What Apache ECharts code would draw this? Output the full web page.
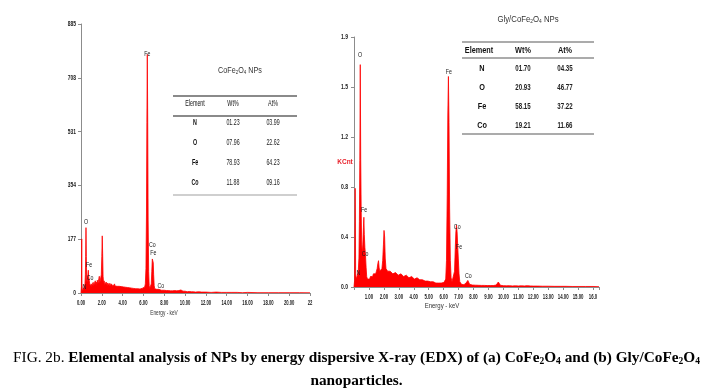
<!DOCTYPE html>
<html><head><meta charset="utf-8">
<script src="https://cdn.jsdelivr.net/npm/echarts@6/dist/echarts.min.js"></script>
<style>html,body{margin:0;padding:0;background:#fff}#c{width:713px;height:391px}</style>
</head><body><div id="c"></div>
<script>
// ---- (a) CoFe2O4 spectrum: [energy keV, counts]
const specA = [[0.00,0],[0.04,20],[0.07,178],[0.09,30],[0.13,8],[0.18,5],[0.24,10],[0.30,18],[0.34,24],[0.38,30],[0.42,60],[0.45,120],[0.48,215],[0.51,120],[0.54,50],[0.58,35],[0.62,45],[0.66,60],[0.70,75],[0.73,55],[0.77,45],[0.80,40],[0.84,30],[0.88,26],[0.93,22],[0.98,30],[1.03,20],[1.08,28],[1.12,22],[1.17,35],[1.22,24],[1.27,30],[1.32,26],[1.37,40],[1.42,28],[1.47,36],[1.52,25],[1.57,42],[1.62,30],[1.67,38],[1.72,48],[1.76,55],[1.80,32],[1.85,30],[1.90,36],[1.95,60],[2.00,120],[2.04,188],[2.08,130],[2.12,55],[2.17,32],[2.22,40],[2.27,28],[2.32,34],[2.37,26],[2.42,36],[2.47,30],[2.52,25],[2.57,33],[2.62,27],[2.67,30],[2.72,24],[2.77,32],[2.82,26],[2.87,23],[2.92,30],[2.97,24],[3.02,28],[3.07,22],[3.12,27],[3.17,21],[3.22,30],[3.27,23],[3.32,26],[3.37,20],[3.42,28],[3.47,22],[3.52,25],[3.57,19],[3.62,27],[3.67,22],[3.72,24],[3.77,18],[3.82,26],[3.87,21],[3.92,23],[3.97,18],[4.02,25],[4.07,20],[4.12,22],[4.17,17],[4.22,24],[4.27,19],[4.32,21],[4.37,16],[4.42,22],[4.47,18],[4.52,20],[4.57,15],[4.62,21],[4.67,17],[4.72,19],[4.77,15],[4.82,20],[4.87,16],[4.92,18],[4.97,14],[5.02,19],[5.07,15],[5.12,17],[5.17,13],[5.22,18],[5.27,14],[5.32,16],[5.37,13],[5.42,17],[5.47,14],[5.52,16],[5.57,12],[5.62,16],[5.67,13],[5.72,15],[5.77,12],[5.82,14],[5.87,13],[5.92,16],[5.97,14],[6.02,18],[6.07,15],[6.12,20],[6.18,30],[6.24,80],[6.29,260],[6.33,560],[6.37,785],[6.41,560],[6.45,240],[6.50,70],[6.55,25],[6.60,15],[6.65,14],[6.70,18],[6.75,30],[6.80,70],[6.85,112],[6.90,118],[6.94,100],[6.98,60],[7.03,25],[7.08,14],[7.13,12],[7.18,11],[7.23,10],[7.28,12],[7.33,9],[7.38,11],[7.43,10],[7.48,12],[7.53,14],[7.58,18],[7.62,16],[7.67,12],[7.72,9],[7.80,10],[7.90,8],[8.00,9],[8.10,7],[8.20,8],[8.30,6],[8.40,8],[8.50,6],[8.60,7],[8.70,5],[8.80,7],[8.90,6],[9.00,8],[9.10,5],[9.20,7],[9.30,6],[9.40,8],[9.50,6],[9.60,10],[9.70,8],[9.80,6],[9.90,5],[10.0,6],[10.2,4],[10.4,5],[10.6,4],[10.8,4],[11.0,3],[11.3,4],[11.6,3],[12.0,3],[12.5,2],[13.0,3],[13.5,2],[14.0,2],[14.5,2],[15.0,2],[15.5,1],[16.0,2],[17.0,1],[18.0,1],[19.0,1],[20.0,1],[21.0,1],[22.0,1]];

// ---- (b) Gly/CoFe2O4 spectrum: [energy keV, KCnt]
const specB = [[0.00,0],[0.04,0.05],[0.08,0.75],[0.11,0.1],[0.15,0.06],[0.20,0.08],[0.25,0.10],[0.29,0.13],[0.33,0.22],[0.36,0.5],[0.39,0.96],[0.42,1.69],[0.45,0.97],[0.48,0.6],[0.51,0.35],[0.55,0.25],[0.59,0.32],[0.63,0.45],[0.66,0.53],[0.69,0.40],[0.73,0.30],[0.77,0.24],[0.81,0.15],[0.85,0.08],[0.90,0.06],[0.95,0.05],[1.00,0.07],[1.05,0.06],[1.10,0.08],[1.15,0.07],[1.20,0.09],[1.25,0.08],[1.30,0.10],[1.35,0.09],[1.40,0.11],[1.45,0.10],[1.50,0.12],[1.55,0.14],[1.60,0.18],[1.64,0.20],[1.68,0.15],[1.72,0.12],[1.77,0.13],[1.82,0.12],[1.87,0.14],[1.92,0.20],[1.97,0.32],[2.01,0.43],[2.05,0.38],[2.09,0.22],[2.14,0.14],[2.19,0.13],[2.25,0.12],[2.30,0.13],[2.36,0.11],[2.42,0.12],[2.48,0.11],[2.54,0.12],[2.60,0.10],[2.66,0.11],[2.72,0.10],[2.78,0.11],[2.84,0.10],[2.90,0.10],[2.96,0.09],[3.02,0.10],[3.08,0.09],[3.14,0.10],[3.20,0.09],[3.26,0.09],[3.32,0.08],[3.38,0.09],[3.44,0.08],[3.50,0.09],[3.56,0.08],[3.62,0.08],[3.68,0.07],[3.74,0.08],[3.80,0.07],[3.86,0.08],[3.92,0.07],[3.98,0.07],[4.04,0.06],[4.10,0.07],[4.16,0.06],[4.22,0.07],[4.28,0.06],[4.34,0.06],[4.40,0.055],[4.46,0.06],[4.52,0.05],[4.58,0.055],[4.64,0.05],[4.70,0.05],[4.76,0.045],[4.82,0.05],[4.88,0.045],[4.94,0.045],[5.00,0.04],[5.06,0.045],[5.12,0.04],[5.18,0.04],[5.24,0.035],[5.30,0.04],[5.36,0.035],[5.42,0.035],[5.48,0.03],[5.54,0.035],[5.60,0.03],[5.66,0.03],[5.72,0.03],[5.78,0.028],[5.84,0.03],[5.90,0.03],[5.96,0.032],[6.02,0.035],[6.08,0.04],[6.14,0.06],[6.19,0.2],[6.24,0.7],[6.28,1.3],[6.32,1.60],[6.36,1.25],[6.40,0.6],[6.45,0.2],[6.50,0.07],[6.56,0.04],[6.62,0.035],[6.68,0.05],[6.73,0.12],[6.78,0.3],[6.82,0.42],[6.86,0.47],[6.90,0.42],[6.94,0.32],[6.98,0.22],[7.03,0.1],[7.08,0.04],[7.14,0.025],[7.20,0.02],[7.28,0.02],[7.36,0.018],[7.44,0.02],[7.50,0.03],[7.56,0.045],[7.62,0.05],[7.68,0.035],[7.74,0.02],[7.82,0.016],[7.92,0.015],[8.02,0.016],[8.12,0.014],[8.22,0.015],[8.32,0.013],[8.42,0.014],[8.52,0.012],[8.62,0.013],[8.72,0.012],[8.82,0.012],[8.92,0.011],[9.02,0.012],[9.12,0.011],[9.22,0.012],[9.32,0.011],[9.42,0.012],[9.52,0.015],[9.60,0.03],[9.66,0.038],[9.72,0.025],[9.80,0.013],[9.90,0.011],[10.0,0.01],[10.2,0.009],[10.4,0.01],[10.6,0.008],[10.8,0.009],[11.0,0.008],[11.2,0.009],[11.4,0.008],[11.6,0.01],[11.8,0.008],[12.0,0.007],[12.3,0.007],[12.6,0.006],[13.0,0.006],[13.4,0.005],[13.8,0.005],[14.2,0.005],[14.6,0.004],[15.0,0.004],[15.5,0.004],[16.0,0.004],[16.4,0.003]];

// ---- peak labels [element, energy, height]
const peakLabelsA = [['O',0.48,233],['Fe',0.77,92],['Co',0.87,49],['N',0.32,20],['Fe',6.38,786],['Co',6.86,158],['Fe',6.95,132],['Co',7.66,24]];
const peakLabelsB = [['O',0.40,1.76],['Fe',0.67,0.585],['Co',0.74,0.25],['N',0.29,0.109],['Fe',6.35,1.63],['Co',6.91,0.458],['Fe',7.04,0.306],['Co',7.65,0.086]];

// ---- axis tick labels
const xTicksA = ['0.00','2.00','4.00','6.00','8.00','10.00','12.00','14.00','16.00','18.00','20.00','22'];
const yTicksA = ['0','177','354','531','708','885'];
const xTicksB = ['1.00','2.00','3.00','4.00','5.00','6.00','7.00','8.00','9.00','10.00','11.00','12.00','13.00','14.00','15.00','16.0'];
const yTicksB = ['0.0','0.4','0.8','1.2','1.5','1.9'];

// ---- tables
const tableHeaders = ['Element','Wt%','At%'];
const elements = ['N','O','Fe','Co'];
const wtA = ['01.23','07.96','78.93','11.88'];
const atA = ['03.99','22.62','64.23','09.16'];
const wtB = ['01.70','20.93','58.15','19.21'];
const atB = ['04.35','46.77','37.22','11.66'];
const titleA = 'CoFe{s|2}O{s|4} NPs';
const titleB = 'Gly/CoFe{s|2}O{s|4} NPs';
const captionLine1 = '{n|FIG. 2b. }{b|Elemental analysis of NPs by energy dispersive X-ray (EDX) of (a) CoFe}{s|2}{b|O}{s|4}{b| and (b) Gly/CoFe}{s|2}{b|O}{s|4}';
const captionLine2 = 'nanoparticles.';
const xNameText = 'Energy - keV';

const SANS = "'Liberation Sans',Arial,sans-serif";
const SERIF = "'Liberation Serif','Times New Roman',serif";

function txt(x, y, text, size, opts) {
  opts = opts || {};
  return {type:'text', x:x, y:y, scaleX:opts.sx||1, silent:true, style:Object.assign({
    text:text, fill:opts.fill||'#222', fontSize:size, fontFamily:opts.family||SANS,
    fontWeight:opts.weight||'normal', align:opts.align||'center', verticalAlign:'middle'
  }, opts.extra||{})};
}
function hline(x1, x2, y, color, w) {
  return {type:'line', silent:true, shape:{x1:x1,y1:y,x2:x2,y2:y}, style:{stroke:color, lineWidth:w}};
}
function buildTable(c) {
  const g = [];
  g.push(txt(c.titleX, c.titleY, c.title, c.titleSize, {sx:c.titleSx, fill:'#333', extra:{rich:{s:{fontSize:c.titleSize*0.62, verticalAlign:'bottom', lineHeight:c.titleSize*0.45, fill:'#333', fontFamily:SANS}}, lineHeight:c.titleSize*1.1}}));
  g.push(hline(c.x1, c.x2, c.top, c.lineColor, c.lw));
  tableHeaders.forEach((h,i)=>g.push(txt(c.cols[i], c.headY, h, c.size, {sx:c.headSx, weight:c.headWeight, fill:'#111'})));
  g.push(hline(c.x1, c.x2, c.mid, c.lineColor, c.lw));
  elements.forEach((e,r)=>{
    const y = c.row0 + r*c.rowStep;
    g.push(txt(c.cols[0]+c.elOff, y, e, c.size, {sx:c.headSx, weight:'bold', fill:'#111'}));
    g.push(txt(c.cols[1], y, c.wt[r], c.size, {sx:c.numSx, weight:c.numWeight, fill:'#222'}));
    g.push(txt(c.cols[2], y, c.at[r], c.size, {sx:c.numSx, weight:c.numWeight, fill:'#222'}));
  });
  g.push(hline(c.x1, c.x2, c.bottom, c.bottomColor, c.lw));
  return g;
}

const graphics = [].concat(
  buildTable({title:titleA, titleX:240, titleY:71, titleSize:9, titleSx:0.8, x1:173, x2:297, top:96, mid:116, bottom:195,
    headY:104, row0:123, rowStep:20, cols:[195,233,273], elOff:0, size:8.5, headSx:0.63, numSx:0.62, headWeight:'normal', numWeight:'normal',
    wt:wtA, at:atA, lineColor:'#8a8a8a', bottomColor:'#cfcfcf', lw:2}),
  buildTable({title:titleB, titleX:528, titleY:19, titleSize:9.5, titleSx:0.82, x1:462, x2:594, top:42, mid:58, bottom:134,
    headY:51, row0:69, rowStep:19, cols:[479,523,565], elOff:3, size:8.5, headSx:0.86, numSx:0.72, headWeight:'bold', numWeight:'bold',
    wt:wtB, at:atB, lineColor:'#8f8f8f', bottomColor:'#8f8f8f', lw:1.5}),
  [
    txt(164, 313, xNameText, 7, {sx:0.68, fill:'#333'}),
    txt(442, 306, xNameText, 7.5, {sx:0.8, fill:'#333'}),
    txt(356.5, 358, captionLine1, 15.3, {family:SERIF, fill:'#000', extra:{lineHeight:17, rich:{
      n:{fontSize:15.3, fontFamily:SERIF, fontWeight:'normal', fill:'#000', lineHeight:17},
      b:{fontSize:15.3, fontFamily:SERIF, fontWeight:'bold', fill:'#000', lineHeight:17},
      s:{fontSize:9.5, fontFamily:SERIF, fontWeight:'bold', fill:'#000', lineHeight:6, verticalAlign:'bottom'}
    }}}),
    txt(356.5, 381, captionLine2, 15.3, {family:SERIF, weight:'bold', fill:'#000'})
  ]
);

// custom series that writes (condensed) text at data coordinates via the axes
function textSeries(axisIdx, points, labels, o) {
  return {
    type:'custom', xAxisIndex:axisIdx, yAxisIndex:axisIdx, coordinateSystem:'cartesian2d',
    data:points, silent:true, clip:false, z:6,
    renderItem:(params, api)=>{
      const p = api.coord([api.value(0), api.value(1)]);
      return {type:'text', x:p[0]+(o.dx||0), y:p[1]+(o.dy||0), scaleX:o.sx,
        style:{text:labels[params.dataIndex], fill:o.fill||'#1a1a1a', fontSize:o.size, fontFamily:SANS,
          fontWeight:o.weight||'normal', align:o.align||'center', verticalAlign:'middle'}};
    }
  };
}

const axisCommon = {
  axisLine:{show:true, onZero:false, lineStyle:{color:'#8c8c8c', width:1}},
  axisTick:{show:true, length:3, lineStyle:{color:'#8c8c8c'}},
  splitLine:{show:false}, axisLabel:{show:false}
};

const chart = echarts.init(document.getElementById('c'), null, {renderer:'canvas'});
chart.setOption({
  animation:false,
  backgroundColor:'#fff',
  grid:[
    {left:81, top:24, width:229, height:269},
    {left:354, top:37, width:245, height:250}
  ],
  xAxis:[
    Object.assign({gridIndex:0, type:'value', min:0, max:22, interval:2}, axisCommon),
    Object.assign({gridIndex:1, type:'value', min:0, max:16.4, interval:1}, axisCommon)
  ],
  yAxis:[
    Object.assign({gridIndex:0, type:'value', min:0, max:885, interval:177}, axisCommon),
    Object.assign({gridIndex:1, type:'value', min:0, max:1.9, interval:0.38,
      name:'KCnt', nameLocation:'middle', nameRotate:0, nameGap:9,
      nameTextStyle:{color:'#e8202a', fontSize:6.5, fontFamily:SANS, fontWeight:'bold', align:'center'}}, axisCommon)
  ],
  series:[
    {type:'line', xAxisIndex:0, yAxisIndex:0, data:specA, showSymbol:false, symbol:'none', silent:true,
      lineStyle:{color:'#ff0000', width:0.8}, areaStyle:{color:'#ff0000', opacity:1}},
    {type:'line', xAxisIndex:1, yAxisIndex:1, data:specB, showSymbol:false, symbol:'none', silent:true,
      lineStyle:{color:'#ff0000', width:0.8}, areaStyle:{color:'#ff0000', opacity:1}},
    // peak element labels
    textSeries(0, peakLabelsA.map(p=>[p[1],p[2]]), peakLabelsA.map(p=>p[0]), {size:7, sx:0.75}),
    textSeries(1, peakLabelsB.map(p=>[p[1],p[2]]), peakLabelsB.map(p=>p[0]), {size:7, sx:0.75}),
    // tick labels
    textSeries(0, xTicksA.map(t=>[parseFloat(t),0]), xTicksA, {size:7, sx:0.6, dy:10.5, weight:'bold'}),
    textSeries(0, yTicksA.map(t=>[0,parseFloat(t)]), yTicksA, {size:7, sx:0.7, dx:-5, align:'right', weight:'bold'}),
    textSeries(1, xTicksB.map(t=>[parseFloat(t),0]), xTicksB, {size:7, sx:0.62, dy:10, weight:'bold'}),
    textSeries(1, yTicksB.map((t,i)=>[0,i*0.38]), yTicksB, {size:7, sx:0.72, dx:-6, align:'right', weight:'bold'})
  ],
  graphic:graphics
});
</script>
</body></html>
